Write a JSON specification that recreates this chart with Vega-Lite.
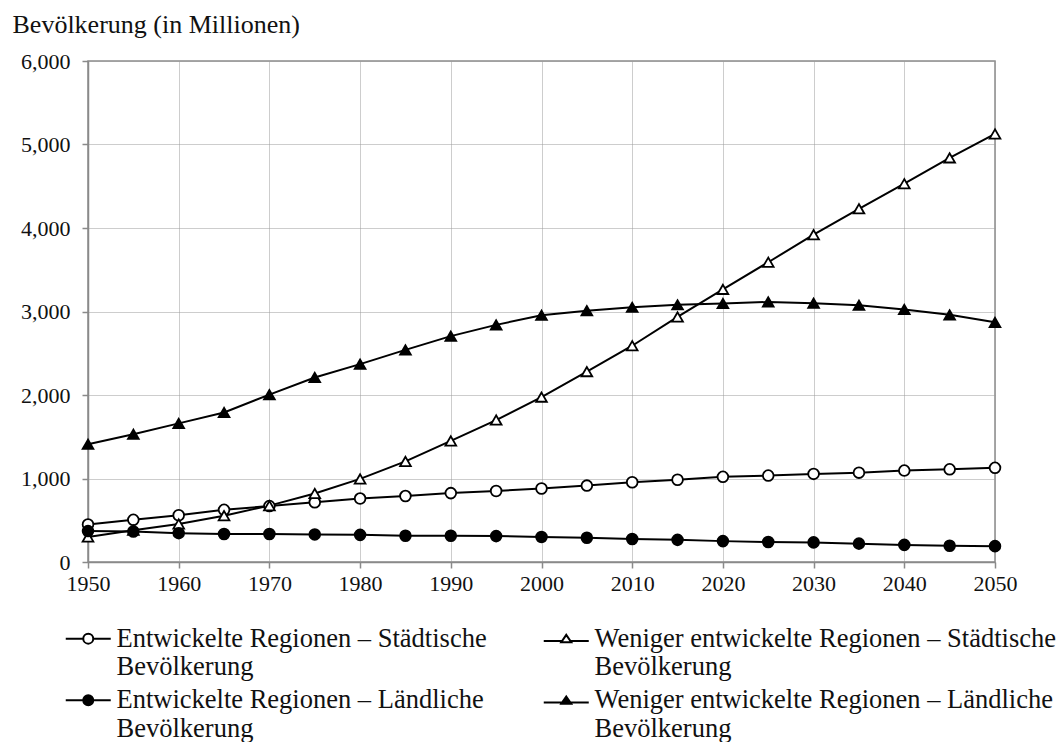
{
  "$schema": "https://vega.github.io/schema/vega-lite/v6.json",
  "width": 907,
  "height": 501,
  "autosize": {"type": "none"},
  "padding": {"left": 88, "top": 61, "right": 68, "bottom": 180},
  "background": "white",
  "config": {
    "font": "Liberation Serif",
    "view": {"stroke": "#8a8a8a", "strokeWidth": 1.5},
    "axis": {
      "labelFont": "Liberation Serif",
      "titleFont": "Liberation Serif",
      "labelFontSize": 22,
      "labelColor": "#111",
      "domainColor": "#8a8a8a",
      "domainWidth": 1.5,
      "tickColor": "#8a8a8a",
      "tickWidth": 1.5,
      "tickSize": 6,
      "gridColor": "#9a9a9a",
      "gridDash": [1, 1],
      "gridWidth": 1
    }
  },
  "data": {
    "values": [
      {"year": 1950, "EU": 450, "ER": 370, "WU": 300, "WR": 1410},
      {"year": 1955, "EU": 505, "ER": 365, "WU": 380, "WR": 1530},
      {"year": 1960, "EU": 560, "ER": 345, "WU": 455, "WR": 1660},
      {"year": 1965, "EU": 625, "ER": 335, "WU": 555, "WR": 1790},
      {"year": 1970, "EU": 670, "ER": 335, "WU": 675, "WR": 2005},
      {"year": 1975, "EU": 715, "ER": 330, "WU": 820, "WR": 2210},
      {"year": 1980, "EU": 760, "ER": 325, "WU": 995, "WR": 2370},
      {"year": 1985, "EU": 790, "ER": 315, "WU": 1205, "WR": 2540},
      {"year": 1990, "EU": 825, "ER": 315, "WU": 1450, "WR": 2705},
      {"year": 1995, "EU": 850, "ER": 310, "WU": 1700, "WR": 2840},
      {"year": 2000, "EU": 880, "ER": 300, "WU": 1975, "WR": 2955},
      {"year": 2005, "EU": 915, "ER": 290, "WU": 2280, "WR": 3010},
      {"year": 2010, "EU": 955, "ER": 275, "WU": 2590, "WR": 3050},
      {"year": 2015, "EU": 985, "ER": 265, "WU": 2935, "WR": 3080},
      {"year": 2020, "EU": 1020, "ER": 250, "WU": 3265, "WR": 3095},
      {"year": 2025, "EU": 1035, "ER": 240, "WU": 3590, "WR": 3115},
      {"year": 2030, "EU": 1055, "ER": 235, "WU": 3920, "WR": 3100},
      {"year": 2035, "EU": 1070, "ER": 220, "WU": 4230, "WR": 3075},
      {"year": 2040, "EU": 1095, "ER": 205, "WU": 4530, "WR": 3025},
      {"year": 2045, "EU": 1110, "ER": 195, "WU": 4840, "WR": 2960},
      {"year": 2050, "EU": 1128, "ER": 190, "WU": 5126, "WR": 2870}
    ]
  },
  "transform": [
    {"fold": ["EU", "WU", "ER", "WR"], "as": ["key", "value"]},
    {"lookup": "key", "from": {"data": {"values": [
      {"key": "EU", "series": "Entwickelte Regionen – Städtische Bevölkerung"},
      {"key": "WU", "series": "Weniger entwickelte Regionen – Städtische Bevölkerung"},
      {"key": "ER", "series": "Entwickelte Regionen – Ländliche Bevölkerung"},
      {"key": "WR", "series": "Weniger entwickelte Regionen – Ländliche Bevölkerung"}
    ]}, "key": "key", "fields": ["series"]}}
  ],
  "encoding": {
    "x": {
      "field": "year", "type": "quantitative",
      "scale": {"domain": [1950, 2050], "nice": false, "zero": false},
      "axis": {"title": null, "values": [1950,1960,1970,1980,1990,2000,2010,2020,2030,2040,2050], "format": "d", "labelPadding": 5, "labelFlush": false, "labelFont": "Liberation Serif", "labelFontSize": 22}
    },
    "y": {
      "field": "value", "type": "quantitative",
      "scale": {"domain": [0, 6000], "nice": false},
      "axis": {
        "values": [0,1000,2000,3000,4000,5000,6000], "format": ",d", "labelPadding": 12,
        "labelFont": "Liberation Serif", "labelFontSize": 22,
        "title": "Bevölkerung (in Millionen)", "titleAngle": 0, "titleX": -76, "titleY": -29,
        "titleAlign": "left", "titleBaseline": "alphabetic", "titleFontSize": 26,
        "titleFontWeight": "normal", "titleFont": "Liberation Serif", "titleColor": "#111"
      }
    }
  },
  "layer": [
    {
      "mark": {"type": "line", "color": "black", "strokeWidth": 2},
      "encoding": {"detail": {"field": "series"}}
    },
    {
      "mark": {"type": "point", "filled": true, "strokeWidth": 1.8, "size": 115, "opacity": 1},
      "encoding": {
        "shape": {
          "field": "series", "type": "nominal",
          "scale": {
            "domain": ["Entwickelte Regionen – Städtische Bevölkerung", "Entwickelte Regionen – Ländliche Bevölkerung", "Weniger entwickelte Regionen – Städtische Bevölkerung", "Weniger entwickelte Regionen – Ländliche Bevölkerung"],
            "range": ["circle", "circle", "triangle-up", "triangle-up"]
          },
          "legend": null
        },
        "fill": {
          "field": "series", "type": "nominal",
          "scale": {
            "domain": ["Entwickelte Regionen – Städtische Bevölkerung", "Entwickelte Regionen – Ländliche Bevölkerung", "Weniger entwickelte Regionen – Städtische Bevölkerung", "Weniger entwickelte Regionen – Ländliche Bevölkerung"],
            "range": ["white", "black", "white", "black"]
          },
          "legend": null
        },
        "stroke": {
          "field": "series", "type": "nominal",
          "scale": {
            "domain": ["Entwickelte Regionen – Städtische Bevölkerung", "Entwickelte Regionen – Ländliche Bevölkerung", "Weniger entwickelte Regionen – Städtische Bevölkerung", "Weniger entwickelte Regionen – Ländliche Bevölkerung"],
            "range": ["black", "black", "black", "black"]
          },
          "legend": null
        }
      }
    },
    {
      "transform": [{"filter": "datum.year < 0"}],
      "mark": {"type": "point", "filled": true, "strokeWidth": 2, "size": 100, "opacity": 1},
      "encoding": {
        "shape": {
          "field": "series", "type": "nominal",
          "scale": {
            "domain": ["Entwickelte Regionen – Städtische Bevölkerung", "Entwickelte Regionen – Ländliche Bevölkerung", "Weniger entwickelte Regionen – Städtische Bevölkerung", "Weniger entwickelte Regionen – Ländliche Bevölkerung"],
            "range": [
              "M-4.5,0H-1M1,0H4.5M1,0A1,1,0,1,1,-1,0A1,1,0,1,1,1,0Z",
              "M-4.5,0H4.5M1,0A1,1,0,1,1,-1,0A1,1,0,1,1,1,0Z",
              "M-4.5,0.45H-0.85M0.85,0.45H4.5M0,-0.75L1,0.7L-1,0.7Z",
              "M-4.5,0.45H4.5M0,-0.75L1,0.7L-1,0.7Z"
            ]
          },
          "legend": {
            "title": null,
            "orient": "none",
            "legendX": -13,
            "legendY": 564,
            "columns": 2,
            "columnPadding": 52,
            "rowPadding": 6,
            "padding": 0,
            "symbolSize": 100,
            "symbolStrokeWidth": 2,
            "labelFont": "Liberation Serif",
            "labelFontSize": 26.5,
            "labelColor": "#111",
            "labelLimit": 1000,
            "labelOffset": 15,
            "labelBaseline": "middle",
            "labelExpr": "[replace(datum.label, ' Bevölkerung', ''), 'Bevölkerung']",
            "encode": {
              "labels": {"lineHeight": {"value": 29}}
            }
          }
        },
        "fill": {
          "field": "series", "type": "nominal",
          "scale": {
            "domain": ["Entwickelte Regionen – Städtische Bevölkerung", "Entwickelte Regionen – Ländliche Bevölkerung", "Weniger entwickelte Regionen – Städtische Bevölkerung", "Weniger entwickelte Regionen – Ländliche Bevölkerung"],
            "range": ["white", "black", "white", "black"]
          },
          "legend": null
        },
        "stroke": {
          "field": "series", "type": "nominal",
          "scale": {
            "domain": ["Entwickelte Regionen – Städtische Bevölkerung", "Entwickelte Regionen – Ländliche Bevölkerung", "Weniger entwickelte Regionen – Städtische Bevölkerung", "Weniger entwickelte Regionen – Ländliche Bevölkerung"],
            "range": ["black", "black", "black", "black"]
          },
          "legend": null
        }
      }
    }
  ],
  "resolve": {"scale": {"shape": "independent", "fill": "independent", "stroke": "independent"}}
}
